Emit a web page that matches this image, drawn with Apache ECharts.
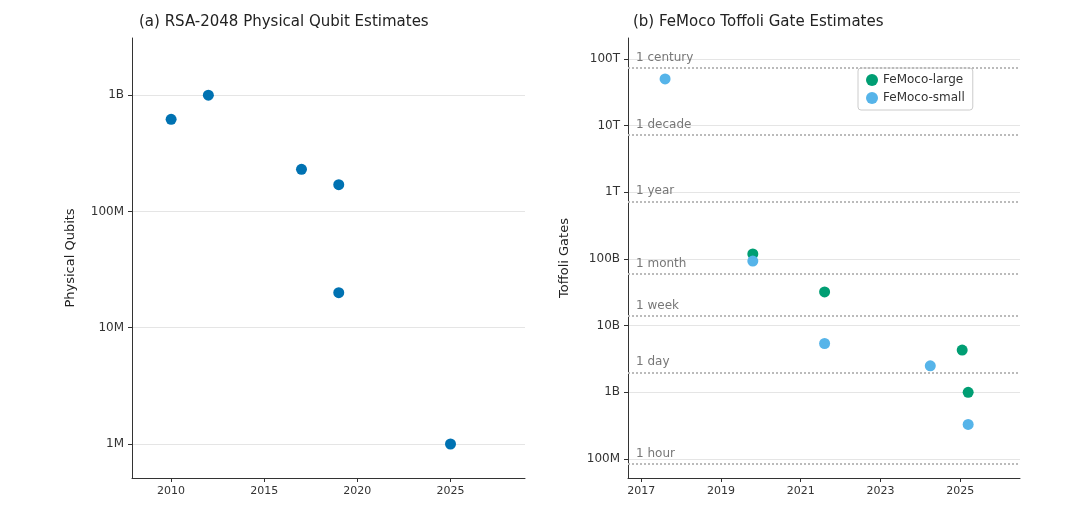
<!DOCTYPE html><html><head><meta charset="utf-8">
<script src="https://cdn.jsdelivr.net/npm/echarts@6/dist/echarts.min.js"></script>
<style>html,body{margin:0;padding:0;background:#fff}#c{width:1080px;height:525px}</style></head>
<body><div id="c"></div><script>
const rsaPoints = [[2010,6.2e8],[2012,1.0e9],[2017,2.3e8],[2019,1.7e8],[2019,2.0e7],[2025,1.0e6]];
const femocoLarge = [[2019.8,1.19e11],[2021.6,3.2e10],[2025.05,4.3e9],[2025.2,1.0e9]];
const femocoSmall = [[2017.6,5.0e13],[2019.8,9.3e10],[2021.6,5.4e9],[2024.25,2.5e9],[2025.2,3.3e8]];
const timeLines = [["1 hour",8.4e7],["1 day",2.0e9],["1 week",1.4e10],["1 month",6.0e10],["1 year",7.3e11],["1 decade",7.3e12],["1 century",7.3e13]];
const leftXTicks = [2010,2015,2020,2025];
const rightXTicks = [2017,2019,2021,2023,2025];
const FONT = "DejaVu Sans";
function fmt(v){
  const l = Math.log10(v);
  if (Math.abs(l-Math.round(l))>0.01) return "";
  const m = {6:"1M",7:"10M",8:"100M",9:"1B",10:"10B",11:"100B",12:"1T",13:"10T",14:"100T"};
  return m[Math.round(l)] || "";
}
function xAx(idx,min,max,ticks){
  return {gridIndex:idx,type:'value',min:min,max:max,splitLine:{show:false},
    axisLine:{lineStyle:{color:'#333'}},
    axisTick:{customValues:ticks,length:4,lineStyle:{color:'#333'}},
    axisLabel:{customValues:ticks,color:'#333',fontFamily:FONT,fontSize:11,formatter:v=>String(Math.round(v))}};
}
function yAx(idx,min,max,name){
  return {gridIndex:idx,type:'log',logBase:10,min:min,max:max,name:name,nameLocation:'middle',nameGap:idx?57:55,
    nameTextStyle:{color:'#222',fontFamily:FONT,fontSize:13},
    axisLine:{show:true,lineStyle:{color:'#333'}},axisTick:{show:true,length:4,lineStyle:{color:'#333'}},
    minorTick:{show:false},
    splitLine:{show:true,showMinLine:false,showMaxLine:false,lineStyle:{color:'#e5e5e5'}},
    axisLabel:{showMinLabel:false,showMaxLabel:false,color:'#333',fontFamily:FONT,fontSize:12,formatter:fmt}};
}
const chart = echarts.init(document.getElementById('c'));
chart.setOption({
  animation:false,
  title:[
    {text:'(a) RSA-2048 Physical Qubit Estimates',left:134,top:10,textStyle:{fontFamily:FONT,fontSize:15,fontWeight:'normal',color:'#222'}},
    {text:'(b) FeMoco Toffoli Gate Estimates',left:628,top:10,textStyle:{fontFamily:FONT,fontSize:15,fontWeight:'normal',color:'#222'}}
  ],
  legend:{data:['FeMoco-large','FeMoco-small'],orient:'vertical',left:858,top:68,itemGap:6,
    backgroundColor:'#fff',borderColor:'#ccc',borderWidth:1,borderRadius:3,padding:[6,8],
    textStyle:{fontFamily:FONT,fontSize:12,color:'#333'},itemWidth:12,itemHeight:12},
  grid:[{left:132,top:38,width:393,height:440},{left:628,top:38,width:392,height:440}],
  xAxis:[xAx(0,2007.9,2029,leftXTicks),xAx(1,2016.67,2026.5,rightXTicks)],
  yAxis:[yAx(0,5.1e5,3.1e9,'Physical Qubits'),yAx(1,5.2e7,2.05e14,'Toffoli Gates')],
  series:[
    {type:'scatter',xAxisIndex:0,yAxisIndex:0,data:rsaPoints,symbolSize:11,itemStyle:{color:'#0072B2',opacity:1}},
    {type:'line',xAxisIndex:1,yAxisIndex:1,data:[],silent:true,
      markLine:{symbol:'none',silent:true,lineStyle:{type:'dotted',color:'#bbb',width:2},
        label:{position:'insideStartTop',color:'#777',fontFamily:FONT,fontSize:12,formatter:p=>p.name,distance:[8,4]},
        data:timeLines.map(t=>({name:t[0],yAxis:t[1]}))}},
    {name:'FeMoco-large',type:'scatter',xAxisIndex:1,yAxisIndex:1,data:femocoLarge,symbolSize:11,itemStyle:{color:'#009E73',opacity:1}},
    {name:'FeMoco-small',type:'scatter',xAxisIndex:1,yAxisIndex:1,data:femocoSmall,symbolSize:11,itemStyle:{color:'#56B4E9',opacity:1}}
  ]
});
</script></body></html>
